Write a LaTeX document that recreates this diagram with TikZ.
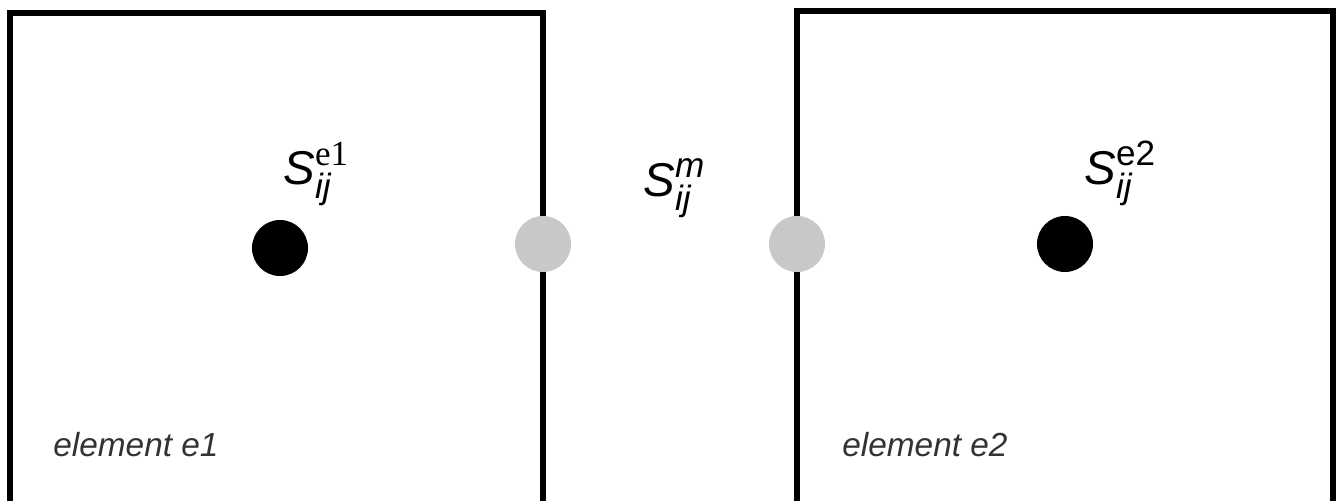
\documentclass[tikz,border=0pt]{standalone}
\usepackage{amsmath}
\usepackage{fontspec}
\setmainfont{Liberation Sans}
\newfontfamily\timesfont{Liberation Serif}
\usetikzlibrary{positioning}
\definecolor{puntogris}{RGB}{200,200,200}
\DeclareMathSizes{27}{27}{20}{15}

\begin{document}
\begin{tikzpicture}[
        caja/.style={draw=black, line width=3.4pt, line join=miter},
        punto/.style={circle, minimum size=1.12cm, inner sep=0pt},
        tensor/.style={anchor=base west, inner sep=0pt, font=\fontsize{27}{32}\selectfont},
        etiqueta/.style={anchor=base west, inner sep=0pt, text=black!80, font=\fontsize{19}{23}\selectfont\itshape}
    ]
        \useasboundingbox (0,0) rectangle (26.84,10.02);

        % Contornos de los dos elementos (abiertos por abajo)
        \coordinate (a1) at (0.2,0);
        \coordinate (b1) at (10.86,9.76);
        \coordinate (a2) at (15.94,0);
        \coordinate (b2) at (26.66,9.8);
        \draw [caja] (a1) |- (b1) -- (b1 |- a1);
        \draw [caja] (a2) |- (b2) -- (b2 |- a2);

        % Puntos de integracion y puntos de la interfaz
        \node [punto, fill=black] (p1) at (5.6,5.06) {};
        \node [punto, fill=puntogris] (m1) at (10.86,5.14) {};
        \node [punto, fill=puntogris] (m2) at (15.94,5.14) {};
        \node [punto, fill=black] (p2) at (21.3,5.14) {};

        % Tensiones
        \node [tensor] (s1) at (5.66,6.32) {$\textit{S}_{\textit{ij}}^{\text{\timesfont e1}}$};
        \node [tensor] (sm) at (12.86,6.08) {$\textit{S}_{\textit{ij}}^{\textit{m}}$};
        \node [tensor] (s2) at (21.68,6.32) {$\textit{S}_{\textit{ij}}^{\text{e2}}$};

        % Nombres de los elementos
        \node [etiqueta] (e1) at (1.06,0.88) {element e1};
        \node [etiqueta] (e2) at (16.84,0.88) {element e2};
    \end{tikzpicture}
\end{document}
